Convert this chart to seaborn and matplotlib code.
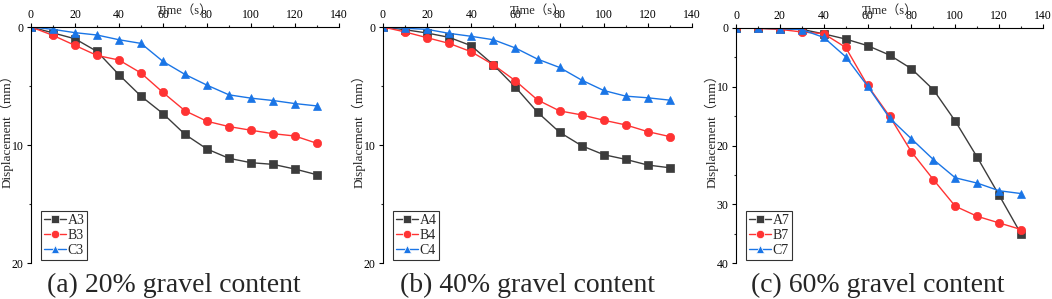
import seaborn as sns
import pandas as pd
from matplotlib import pyplot as plt
from matplotlib.ticker import MultipleLocator

time_s = [0, 10, 20, 30, 40, 50, 60, 70, 80, 90, 100, 110, 120, 130]

a3 = [0, 0.5, 1.0, 2.07, 4.05, 5.86, 7.34, 9.1, 10.34, 11.13, 11.5, 11.64, 12.04, 12.52]
b3 = [0, 0.71, 1.56, 2.41, 2.8, 3.9, 5.55, 7.1, 7.99, 8.44, 8.75, 9.04, 9.24, 9.86]
c3 = [0, 0.2, 0.48, 0.68, 1.08, 1.39, 2.92, 4.02, 4.93, 5.75, 6.03, 6.23, 6.49, 6.69]

a4 = [0, 0.23, 0.51, 0.88, 1.59, 3.2, 5.1, 7.22, 8.92, 10.06, 10.82, 11.22, 11.7, 11.93]
b4 = [0, 0.42, 0.91, 1.39, 2.1, 3.2, 4.56, 6.18, 7.11, 7.45, 7.9, 8.3, 8.87, 9.29]
c4 = [0, 0.11, 0.2, 0.54, 0.79, 1.08, 1.78, 2.72, 3.43, 4.5, 5.38, 5.86, 6.0, 6.2]

a7 = [0, 0.05, 0.17, 0.23, 1.0, 1.88, 3.0, 4.6, 6.93, 10.5, 15.85, 22.0, 28.47, 35.06]
b7 = [0, 0.05, 0.23, 0.68, 0.97, 3.3, 9.77, 15.0, 21.08, 25.8, 30.34, 32.05, 33.18, 34.3]
c7 = [0, 0.05, 0.1, 0.28, 1.6, 4.89, 9.89, 15.3, 18.86, 22.39, 25.5, 26.4, 27.7, 28.18]

panels = [
    ('(a) 20% gravel content', ['A3', 'B3', 'C3'], [a3, b3, c3], 20),
    ('(b) 40% gravel content', ['A4', 'B4', 'C4'], [a4, b4, c4], 20),
    ('(c) 60% gravel content', ['A7', 'B7', 'C7'], [a7, b7, c7], 40),
]

colors = ['#3c3c3c', '#ff3333', '#1a75e6']
markers = ['s', 'o', '^']

sns.set_theme(style='ticks')
plt.rcParams['font.family'] = ['Liberation Serif', 'Noto Sans CJK SC']
plt.rcParams['axes.unicode_minus'] = False

fig = plt.figure(figsize=(10.52, 2.99), dpi=100)

# axes boxes in pixels: (left, right, top, bottom)
boxes = [(31, 339, 27, 263), (383, 692, 27, 263), (736, 1043, 28, 263)]
title_x = [174, 527, 878]
ylabel_x = [14, 366, 719]  # right edge of the rotated y label, px

for (title, names, series, ymax), (l, r, t, b), tx, yx in zip(panels, boxes, title_x, ylabel_x):
    w, h = r - l, b - t
    ax = fig.add_axes([l / 1052, 1 - b / 299, w / 1052, h / 299])
    df = pd.DataFrame({
        'time': time_s * 3,
        'disp': series[0] + series[1] + series[2],
        'name': [n for n in names for _ in time_s],
    })
    sns.lineplot(data=df, x='time', y='disp', hue='name', style='name',
                 palette=colors, markers=markers, dashes=False,
                 markersize=6, linewidth=1.0, markeredgewidth=0.5,
                 ax=ax)
    for ln, c in zip(ax.lines, colors):
        ln.set_markeredgecolor(c)
    ax.set_xlim(0, 140)
    ax.set_ylim(ymax, 0)
    ax.xaxis.tick_top()
    ax.xaxis.set_label_position('top')
    ax.xaxis.set_major_locator(MultipleLocator(20))
    ax.xaxis.set_minor_locator(MultipleLocator(10))
    ax.yaxis.set_major_locator(MultipleLocator(10))
    ax.yaxis.set_minor_locator(MultipleLocator(5))
    ax.tick_params(which='major', direction='out', length=3, width=0.8, labelsize=8.5, colors='black')
    ax.tick_params(axis='x', which='major', pad=1.2)
    ax.tick_params(axis='y', which='major', pad=2.5)
    ax.tick_params(which='minor', direction='out', length=1.8, width=0.8)
    for side in ['right', 'bottom']:
        ax.spines[side].set_visible(False)
    for side in ['left', 'top']:
        ax.spines[side].set_color('black')
        ax.spines[side].set_linewidth(0.8)
    ax.set_xlabel('Time（s）', fontsize=9)
    ax.xaxis.set_label_coords(0.5, (b - 13.5) / h)
    ax.set_ylabel('Displacement（mm）', fontsize=9.5)
    ax.yaxis.set_label_coords((yx - l) / w, (b - 128) / h)
    leg = ax.legend(loc='lower left', bbox_to_anchor=(10 / w, 3 / h), borderaxespad=0,
                    fontsize=10, frameon=True, fancybox=False,
                    edgecolor='black', handlelength=1.6, handletextpad=0.1,
                    borderpad=0.2, labelspacing=0.15)
    leg.get_frame().set_linewidth(0.8)
    fig.text(tx / 1052, 0.005, title, ha='center', va='bottom', fontsize=20)

fig.savefig('out.png', dpi=100)
